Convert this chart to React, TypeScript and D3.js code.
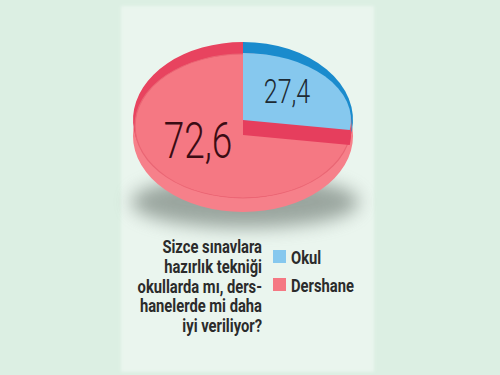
import React from "react";
import * as d3 from "d3";

const categories = ["Okul", "Dershane"];
const values = [27.4, 72.6];
const valueLabels = ["27,4", "72,6"];
const questionLines = [
  "Sizce sınavlara",
  "hazırlık tekniği",
  "okullarda mı, ders-",
  "hanelerde mi daha",
  "iyi veriliyor?",
];

const faceColors = ["#86c8ee", "#f57883"];
const rimColors = ["#1a8bcd", "#e8435f"];
const bandColor = "#e63e5d";
const sideColor = "#f6808a";

const W = 500;
const H = 375;
const CX = 243;

export default function App() {
  const pie = d3
    .pie<number>()
    .sort(null)
    .startAngle(0)
    .endAngle(2 * Math.PI)
    .value((d) => d);
  const slices = pie(values);

  const full = (r: number) =>
    d3.arc()({ innerRadius: 0, outerRadius: r, startAngle: 0, endAngle: 2 * Math.PI }) as string;
  const wedge = (r: number, s: any) =>
    d3.arc()({ innerRadius: 0, outerRadius: r, startAngle: s.startAngle, endAngle: s.endAngle }) as string;

  const ell = (cy: number, rx: number, ry: number) => `translate(${CX},${cy}) scale(1,${ry / rx})`;

  const rim = { cy: 120, rx: 110, ry: 78 };
  const side = { cy: 136, rx: 110, ry: 76 };
  const face = { cy: 126, rx: 108, ry: 72 };
  const raised = { cy: 120, rx: 108, ry: 67 };
  const band = { cy: 135, rx: 108, ry: 67 };

  const textFont = "Roboto, 'Open Sans', sans-serif";

  return (
    <svg
      width={W}
      height={H}
      style={{ position: "absolute", left: 0, top: 0 }}
      viewBox={`0 0 ${W} ${H}`}
    >
      <defs>
        <filter id="blur" x="-50%" y="-50%" width="200%" height="200%">
          <feGaussianBlur stdDeviation="9" />
        </filter>
        <filter id="pblur" x="-10%" y="-10%" width="120%" height="120%">
          <feGaussianBlur stdDeviation="1.5" />
        </filter>
      </defs>
      <rect x={0} y={0} width={W} height={H} fill="#dcefe3" />
      <rect x={121} y={6} width={253} height={366} fill="#eaf5ee" filter="url(#pblur)" />

      {/* shadow */}
      <ellipse cx={CX + 2} cy={202} rx={114} ry={26} fill="#6f7b75" opacity={0.65} filter="url(#blur)" />

      {/* side */}
      <g transform={ell(side.cy, side.rx, side.ry)}>
        <path d={full(side.rx)} fill={sideColor} />
      </g>
      {/* rim */}
      <g transform={ell(rim.cy, rim.rx, rim.ry)}>
        {slices.map((s, i) => (
          <path key={categories[i]} d={wedge(rim.rx, s)} fill={rimColors[i]} />
        ))}
      </g>
      {/* face (red) */}
      <g transform={ell(face.cy, face.rx, face.ry)}>
        <path d={full(face.rx)} fill={faceColors[1]} stroke="#ea6674" strokeWidth={1.2} />
      </g>
      {/* band under raised slice */}
      <g transform={ell(band.cy, band.rx, band.ry)}>
        <path d={wedge(band.rx, slices[0])} fill={bandColor} />
      </g>
      {/* raised slice */}
      <g transform={ell(raised.cy, raised.rx, raised.ry)}>
        <path d={wedge(raised.rx, slices[0])} fill={faceColors[0]} />
      </g>

      {/* value labels */}
      <text
        transform={`translate(287,103) scale(0.76,1)`}
        textAnchor="middle"
        fontFamily={textFont}
        fontWeight={300}
        fontSize={33}
        fill="#1d2a33"
      >
        {valueLabels[0]}
      </text>
      <text
        transform={`translate(198,158) scale(0.74,1)`}
        textAnchor="middle"
        fontFamily={textFont}
        fontWeight={300}
        fontSize={50}
        fill="#3a0c14"
      >
        {valueLabels[1]}
      </text>

      {/* question */}
      {questionLines.map((line, i) => (
        <text
          key={i}
          transform={`translate(262,${253 + i * 19.8}) scale(0.82,1)`}
          textAnchor="end"
          fontFamily={textFont}
          fontWeight={700}
          fontSize={18}
          fill="#2b2b2b"
        >
          {line}
        </text>
      ))}

      {/* legend */}
      {categories.map((c, i) => (
        <g key={c} transform={`translate(273,${250 + i * 28})`}>
          <rect x={0} y={0} width={13} height={13} fill={faceColors[i]} />
          <text
            transform={`translate(18,13.5) scale(0.82,1)`}
            fontFamily={textFont}
            fontWeight={700}
            fontSize={18}
            fill="#2b2b2b"
          >
            {c}
          </text>
        </g>
      ))}
    </svg>
  );
}
